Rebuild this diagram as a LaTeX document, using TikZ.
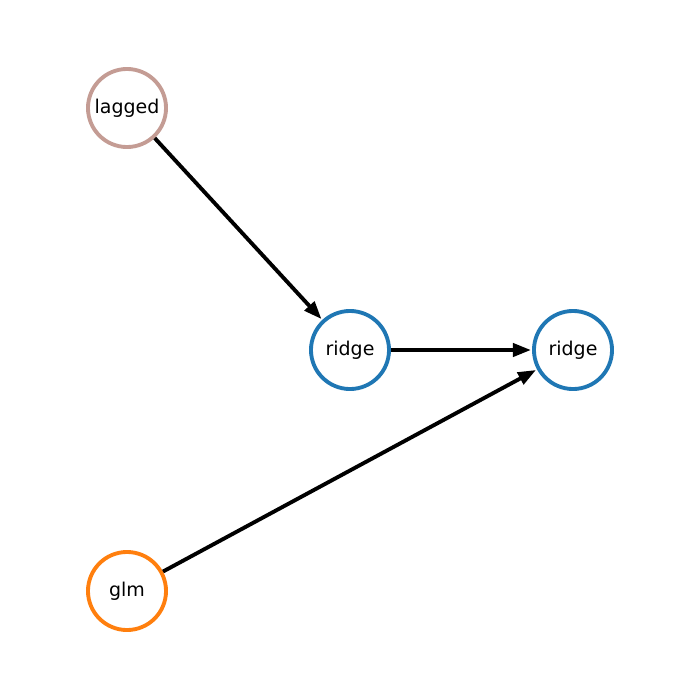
\documentclass[tikz,border=0pt]{standalone}
\usepackage{fontspec}
\setmainfont{DejaVu Sans}
\usetikzlibrary{arrows.meta}
\definecolor{nodeblue}{HTML}{1F77B4}
\definecolor{nodeorange}{HTML}{FF7F0E}
\definecolor{nodebrown}{HTML}{C49C94}
\tikzset{
  model/.style={circle,draw,line width=1.1pt,minimum size=0.78cm,inner sep=0pt,font=\fontsize{5.4}{6}\selectfont,fill=white},
  link/.style={-{Triangle[length=0.18cm,width=0.13cm]},line width=1.1pt,shorten >=0.3pt}
}
\begin{document}
\begin{tikzpicture}[x=0.01cm,y=-0.01cm]
    \useasboundingbox (0,0) rectangle (700,700);
    % the models
    \node[model,draw=nodebrown] (lagged) at (127,108) {lagged};
    \node[model,draw=nodeblue] (ridgea) at (350,350) {ridge};
    \node[model,draw=nodeblue] (ridgeb) at (573,350) {ridge};
    \node[model,draw=nodeorange] (glm) at (127,591) {glm};
    % links
    \draw[link] (lagged) -- (ridgea);
    \draw[link] (ridgea) -- (ridgeb);
    \draw[link] (glm) -- (ridgeb);
\end{tikzpicture}
\end{document}
